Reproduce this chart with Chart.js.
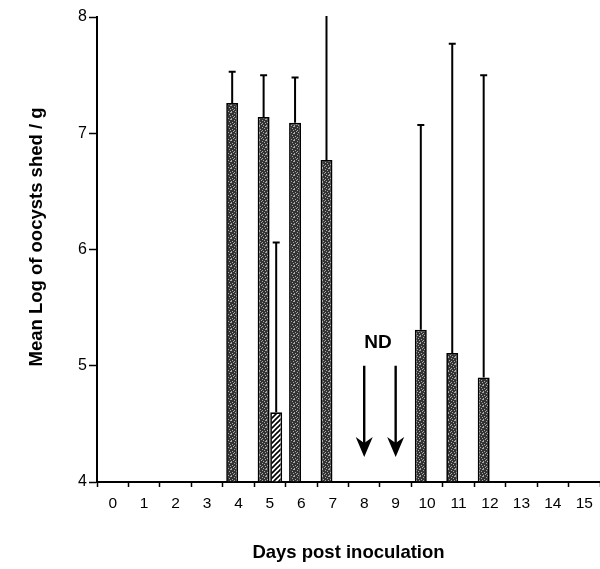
<!DOCTYPE html>
<html>
<head>
<meta charset="utf-8">
<script src="https://cdn.jsdelivr.net/npm/chart.js@4/dist/chart.umd.min.js"></script>
<style>
  body { margin: 0; background: #fff; overflow: hidden; }
  #wrap { width: 600px; height: 569px; }
</style>
</head>
<body>
<div id="wrap"><canvas id="chart" width="600" height="569"></canvas></div>
<script>
const DAYS = ["0", "1", "2", "3", "4", "5", "6", "7", "8", "9", "10", "11", "12", "13", "14", "15"];
// dark (stippled) group
const MEAN_A = [null, null, null, null, 7.26, 7.14, 7.09, 6.77, null, null, 5.31, 5.11, 4.9, null, null, null];
const UPPER_A = [null, null, null, null, 7.53, 7.5, 7.48, 8.3, null, null, 7.07, 7.77, 7.5, null, null, null];
// hatched group
const MEAN_B = [null, null, null, null, null, 4.6, null, null, null, null, null, null, null, null, null, null];
const UPPER_B = [null, null, null, null, null, 6.06, null, null, null, null, null, null, null, null, null, null];
// not determined days (arrows)
const ND_DAYS = ["8", "9"];
const Y_TICKS = [4, 5, 6, 7, 8];

const FONT = "'Liberation Sans', Arial, Helvetica, sans-serif";
const Y_TITLE = "Mean Log of oocysts shed / g";

function makeStipple() {
  // light specks scattered on a dark ground, fixed positions
  let specks = [[0, 0], [3, 1], [6, 0], [1, 3], [5, 2], [2, 5], [6, 4], [4, 6], [0, 6], [3, 4]];
  let c = document.createElement("canvas");
  c.width = 7;
  c.height = 7;
  let g = c.getContext("2d");
  g.fillStyle = "#333";
  g.fillRect(0, 0, 7, 7);
  g.fillStyle = "#a8a8a8";
  specks.forEach(function (p) {
    g.fillRect(p[0], p[1], 1, 1);
  });
  return g.createPattern(c, "repeat");
}

function makeHatch() {
  let c = document.createElement("canvas");
  c.width = 5;
  c.height = 5;
  let g = c.getContext("2d");
  g.fillStyle = "#fff";
  g.fillRect(0, 0, 5, 5);
  g.strokeStyle = "#000";
  g.lineWidth = 1.6;
  g.beginPath();
  g.moveTo(-1, 6);
  g.lineTo(6, -1);
  g.moveTo(-1, 1);
  g.lineTo(1, -1);
  g.moveTo(4, 6);
  g.lineTo(6, 4);
  g.stroke();
  return g.createPattern(c, "repeat");
}

// error whiskers, ND label, arrows and the y title
const extrasPlugin = {
  id: "extras",
  afterDatasetsDraw(chart) {
    let ctx = chart.ctx;
    let y = chart.scales.y;
    let x = chart.scales.x;
    let area = chart.chartArea;

    ctx.save();
    ctx.beginPath();
    ctx.rect(area.left, area.top - 1, area.right - area.left, area.bottom - area.top + 1);
    ctx.clip();
    ctx.strokeStyle = "#000";
    ctx.lineWidth = 2;
    drawWhiskers(chart, 0, MEAN_A, UPPER_A);
    drawWhiskers(chart, 1, MEAN_B, UPPER_B);
    ctx.restore();

    ctx.save();
    ctx.fillStyle = "#000";
    ctx.strokeStyle = "#000";
    ctx.font = "bold 19px " + FONT;
    ctx.textAlign = "center";
    ctx.textBaseline = "middle";
    let x8 = x.getPixelForValue(DAYS.indexOf(ND_DAYS[0]));
    let x9 = x.getPixelForValue(DAYS.indexOf(ND_DAYS[1]));
    ctx.fillText("ND", (x8 + x9) / 2 - 2, y.getPixelForValue(5.2));

    ND_DAYS.forEach(function (d) {
      let px = x.getPixelForValue(DAYS.indexOf(d));
      let top = y.getPixelForValue(5.0);
      let tip = y.getPixelForValue(4.215);
      ctx.lineWidth = 2.4;
      ctx.beginPath();
      ctx.moveTo(px, top);
      ctx.lineTo(px, tip - 10);
      ctx.stroke();
      ctx.beginPath();
      ctx.moveTo(px, tip);
      ctx.lineTo(px - 8.5, tip - 20);
      ctx.lineTo(px, tip - 14);
      ctx.lineTo(px + 8.5, tip - 20);
      ctx.closePath();
      ctx.fill();
    });

    // y title, placed by hand so it sits a little above the middle
    ctx.translate(37, 237);
    ctx.rotate(-Math.PI / 2);
    ctx.font = "bold 18.5px " + FONT;
    ctx.fillText(Y_TITLE, 0, 0);
    ctx.restore();
  }
};

function drawWhiskers(chart, datasetIndex, means, uppers) {
  let ctx = chart.ctx;
  let y = chart.scales.y;
  let meta = chart.getDatasetMeta(datasetIndex);
  for (let i = 0; i < means.length; i++) {
    if (means[i] == null || uppers[i] == null) continue;
    let bar = meta.data[i];
    let top = y.getPixelForValue(uppers[i]);
    ctx.beginPath();
    ctx.moveTo(bar.x, bar.y);
    ctx.lineTo(bar.x, top);
    ctx.moveTo(bar.x - 3.5, top);
    ctx.lineTo(bar.x + 3.5, top);
    ctx.stroke();
  }
}

function renderChart() {
  const ctx = document.getElementById("chart");
  new Chart(ctx, {
    type: "bar",
    data: {
      labels: DAYS,
      datasets: [
        {
          data: MEAN_A,
          base: 4,
          backgroundColor: makeStipple(),
          borderColor: "#000",
          borderWidth: 1.7,
        },
        {
          data: MEAN_B,
          base: 4,
          backgroundColor: makeHatch(),
          borderColor: "#000",
          borderWidth: 1.7,
        },
      ],
    },
    options: {
      responsive: false,
      animation: false,
      categoryPercentage: 0.8,
      barPercentage: 0.95,
      layout: { padding: { top: 17, right: 0, left: 0, bottom: 0 } },
      plugins: {
        legend: { display: false },
        tooltip: { enabled: false },
      },
      scales: {
        x: {
          grid: {
            offset: true,
            drawOnChartArea: false,
            tickLength: 5,
            tickWidth: 1.5,
            color: "#000",
          },
          border: { color: "#000", width: 2 },
          ticks: {
            color: "#000",
            padding: 7,
            maxRotation: 0,
            autoSkip: false,
            font: { family: FONT, size: 15.5 },
          },
          title: {
            display: true,
            text: "Days post inoculation",
            color: "#000",
            padding: { top: 0, bottom: 5 },
            font: { family: FONT, size: 18.5, weight: "bold" },
          },
          afterFit(scale) {
            scale.height = 87;
          },
        },
        y: {
          min: 4,
          max: 8,
          afterBuildTicks(scale) {
            scale.ticks = Y_TICKS.map(function (v) { return { value: v }; });
          },
          grid: {
            drawOnChartArea: false,
            tickLength: 8,
            tickWidth: 1.5,
            color: "#000",
          },
          border: { color: "#000", width: 2 },
          ticks: {
            color: "#000",
            padding: 2,
            font: { family: FONT, size: 16 },
          },
          afterFit(scale) {
            scale.width = 97;
          },
        },
      },
    },
    plugins: [extrasPlugin],
  });
}

renderChart();
</script>
</body>
</html>
